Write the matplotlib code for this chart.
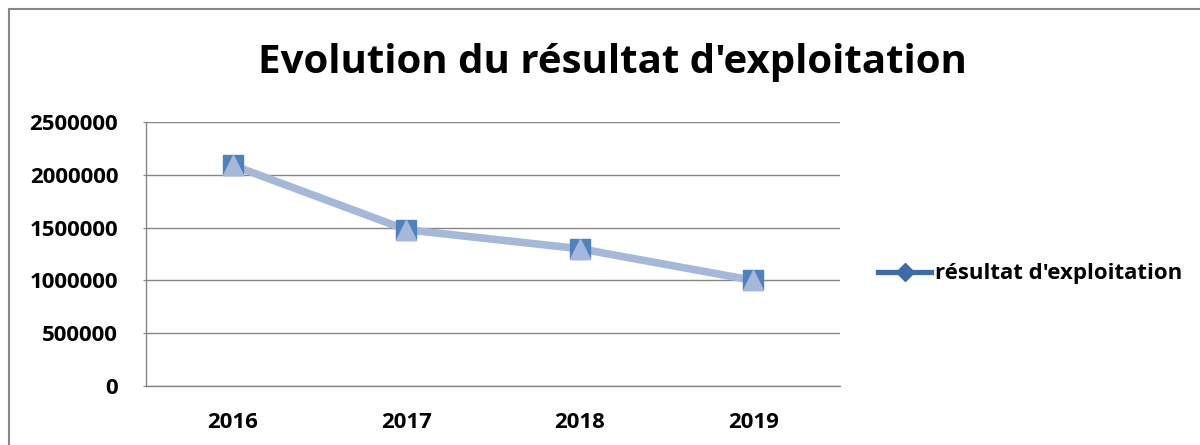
import matplotlib
matplotlib.use('Agg')
import matplotlib.pyplot as plt
from matplotlib.lines import Line2D
from matplotlib.patches import Rectangle

plt.rcParams['font.family'] = ['Open Sans', 'DejaVu Sans']

years = ['2016', '2017', '2018', '2019']
resultat = [2090000, 1480000, 1300000, 1000000]
y_ticks = [0, 500000, 1000000, 1500000, 2000000, 2500000]

title = "Evolution du résultat d'exploitation"
series_name = "résultat d'exploitation"

GRID = '#868686'
LINE = '#A5B8D9'
SQUARE = '#4F81BD'
LEGEND_LINE = '#3F6CA9'

fig = plt.figure(figsize=(12, 4.45), dpi=100)
ax = fig.add_axes([146 / 1200, 1 - 386 / 445, (840 - 146) / 1200, (386 - 122) / 445])

x = list(range(len(years)))
ax.plot(x, resultat, '-', color=LINE, lw=5.5, solid_capstyle='butt', zorder=3)
ax.plot(x, resultat, 's', color=SQUARE, ms=14.5, mec=SQUARE, zorder=4)
ax.plot(x, resultat, '^', color=LINE, ms=14, mec=LINE, zorder=5)

ax.set_xlim(-0.5, len(years) - 0.5)
ax.set_ylim(0, 2500000)
ax.set_xticks(x)
ax.set_xticklabels(years, fontsize=16, fontweight='bold')
ax.set_yticks(y_ticks)
ax.set_yticklabels([str(v) for v in y_ticks], fontsize=16, fontweight='bold')
ax.tick_params(axis='x', length=0, pad=19)
ax.tick_params(axis='y', length=2, color=GRID, pad=18)
ax.grid(axis='y', color=GRID, lw=1)
ax.set_axisbelow(True)
for side in ['top', 'right']:
    ax.spines[side].set_visible(False)
for side in ['left', 'bottom']:
    ax.spines[side].set_color(GRID)
    ax.spines[side].set_linewidth(1)

fig.text(612 / 1200, 1 - 62 / 445, title, ha='center', va='center',
         fontsize=29, fontweight='bold')

handle = Line2D([], [], color=LEGEND_LINE, lw=3.8, marker='D', ms=9,
                mfc=LEGEND_LINE, mec=LEGEND_LINE)
leg = fig.legend([handle], [series_name], loc='center left',
                 bbox_to_anchor=(878 / 1200, 1 - 274 / 445), frameon=False,
                 prop={'size': 16, 'weight': 'bold'}, handlelength=2.4,
                 handletextpad=0.15, borderaxespad=0, borderpad=0)

fig.patches.append(Rectangle((9 / 1200, -0.1), 1.2, 1 - 9 / 445 + 0.1,
                             transform=fig.transFigure, fill=False,
                             edgecolor=GRID, lw=1.5, zorder=0))

fig.savefig('out.png', dpi=100)
